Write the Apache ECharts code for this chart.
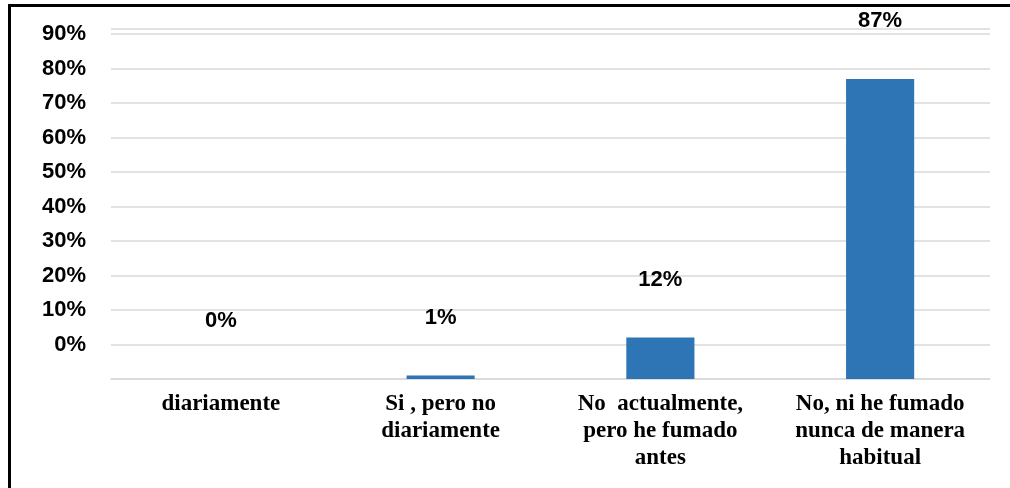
<!DOCTYPE html>
<html>
<head>
<meta charset="utf-8">
<script src="https://cdn.jsdelivr.net/npm/echarts@6/dist/echarts.min.js"></script>
<style>
  html, body { margin: 0; padding: 0; background: #fff; }
  #chart { width: 1010px; height: 488px; }
  #frame { position: absolute; left: 8px; top: 4px; width: 1010px; height: 500px;
           border-left: 3px solid #000; border-top: 3px solid #000; box-sizing: border-box; pointer-events: none; }
</style>
</head>
<body>
<div id="chart"></div>
<div id="frame"></div>
<script>
const categories = [
  "diariamente",
  "Si , pero no\ndiariamente",
  "No  actualmente,\npero he fumado\nantes",
  "No, ni he fumado\nnunca de manera\nhabitual"
];
const values = [0, 1, 12, 87];
const valueLabels = ["0%", "1%", "12%", "87%"];

const chart = echarts.init(document.getElementById('chart'));
chart.setOption({
  animation: false,
  grid: { left: 111, right: 20, top: 29, bottom: 109 },
  xAxis: {
    type: 'category',
    data: categories,
    axisLine: { show: true, lineStyle: { color: '#d9d9d9', width: 1.5 } },
    axisTick: { show: false },
    axisLabel: {
      interval: 0,
      margin: 12,
      color: '#000',
      fontFamily: 'Liberation Serif',
      fontWeight: 'bold',
      fontSize: 23,
      lineHeight: 27
    }
  },
  yAxis: {
    type: 'value',
    min: 0,
    max: 101.5,
    interval: 10,
    axisLine: { show: false },
    axisTick: { show: false },
    splitLine: { lineStyle: { color: '#d9d9d9', width: 1.5 } },
    axisLabel: {
      margin: 25,
      color: '#000',
      fontFamily: 'Liberation Sans',
      fontWeight: 'bold',
      fontSize: 22,
      formatter: function (v) {
        if (v > 0 && Math.abs(v % 10) < 1e-6) return (v - 10) + '%';
        return '';
      }
    }
  },
  series: [{
    type: 'bar',
    data: values,
    barWidth: '31%',
    itemStyle: { color: '#2E75B6' },
    label: {
      show: true,
      position: 'top',
      distance: 47,
      color: '#000',
      fontFamily: 'Liberation Sans',
      fontWeight: 'bold',
      fontSize: 22,
      formatter: function (p) { return valueLabels[p.dataIndex]; }
    }
  }]
});
</script>
</body>
</html>
